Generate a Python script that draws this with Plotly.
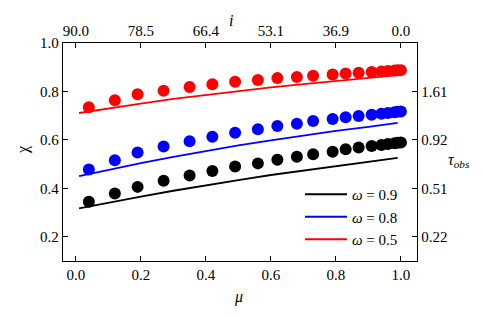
import plotly.graph_objects as go

# ---- data ----
mu_pts = [0.04, 0.12, 0.19, 0.27, 0.35, 0.42, 0.49, 0.56, 0.62, 0.68,
          0.73, 0.79, 0.83, 0.87, 0.91, 0.94, 0.96, 0.98, 0.99, 1.0]
chi_pts_05 = [0.735, 0.764, 0.788, 0.803, 0.818, 0.830, 0.840, 0.847, 0.855, 0.860,
              0.865, 0.870, 0.874, 0.877, 0.880, 0.882, 0.884, 0.886, 0.887, 0.888]
chi_pts_08 = [0.478, 0.516, 0.548, 0.573, 0.594, 0.613, 0.629, 0.644, 0.657, 0.667,
              0.678, 0.686, 0.693, 0.699, 0.704, 0.708, 0.711, 0.714, 0.716, 0.717]
chi_pts_09 = [0.345, 0.379, 0.406, 0.431, 0.453, 0.472, 0.490, 0.503, 0.518, 0.530,
              0.541, 0.551, 0.561, 0.569, 0.575, 0.579, 0.583, 0.586, 0.588, 0.589]

mu_line = [0.01, 0.1, 0.2, 0.3, 0.4, 0.5, 0.6, 0.7, 0.8, 0.9, 0.99]
chi_line_05 = [0.711, 0.730, 0.750, 0.769, 0.786, 0.802, 0.817, 0.830, 0.843, 0.856, 0.867]
chi_line_08 = [0.450, 0.477, 0.504, 0.530, 0.555, 0.577, 0.598, 0.618, 0.637, 0.654, 0.670]
chi_line_09 = [0.317, 0.341, 0.366, 0.390, 0.413, 0.434, 0.455, 0.474, 0.492, 0.510, 0.526]

x_ticks = [0.0, 0.2, 0.4, 0.6, 0.8, 1.0]
x_ticklabels = ["0.0", "0.2", "0.4", "0.6", "0.8", "1.0"]
i_ticklabels = ["90.0", "78.5", "66.4", "53.1", "36.9", "0.0"]
y_ticks = [0.2, 0.4, 0.6, 0.8, 1.0]
y_ticklabels = ["0.2", "0.4", "0.6", "0.8", "1.0"]
tau_ticks = [0.2, 0.4, 0.6, 0.8]
tau_ticklabels = ["0.22", "0.51", "0.92", "1.61"]

series = [
    ("<i>ω</i> = 0.9", "#000000", chi_line_09, chi_pts_09),
    ("<i>ω</i> = 0.8", "#0000ff", chi_line_08, chi_pts_08),
    ("<i>ω</i> = 0.5", "#ff0000", chi_line_05, chi_pts_05),
]

FONT = "Liberation Serif, DejaVu Serif, serif"
OFF = 8  # page body margin
W, H = 485 - OFF, 318 - OFF
L, R, T, B = 63 - OFF, 417 - OFF, 43 - OFF, 261 - OFF

fig = go.Figure()
for name, col, yl, yp in series:
    fig.add_trace(go.Scatter(x=mu_line, y=yl, mode="lines", name=name,
                             line=dict(color=col, width=1.8)))
for name, col, yl, yp in series:
    fig.add_trace(go.Scatter(x=mu_pts, y=yp, mode="markers", showlegend=False,
                             marker=dict(color=col, size=12, line=dict(width=0))))
# empty trace to activate the twin axes
fig.add_trace(go.Scatter(x=[None], y=[None], xaxis="x2", yaxis="y2",
                         showlegend=False, hoverinfo="skip"))

xr = [-0.0395, 1.0495]
yr = [0.1, 1.0]
common = dict(showline=True, linecolor="black", linewidth=1.3, ticks="inside",
              ticklen=5, tickwidth=1.3, tickcolor="black", showgrid=False,
              zeroline=False, automargin=False,
              tickfont=dict(family=FONT, size=15, color="black"))

def px(xp):
    return (xp - OFF - L) / (R - L)

def py(yp):
    return (B - (yp - OFF)) / (B - T)

fig.update_layout(
    width=W, height=H,
    margin=dict(l=L, r=W - R, t=T, b=H - B, autoexpand=False),
    paper_bgcolor="white", plot_bgcolor="white",
    font=dict(family=FONT, size=15, color="black"),
    xaxis=dict(range=xr, tickvals=x_ticks, ticktext=x_ticklabels, **common),
    xaxis2=dict(range=xr, tickvals=x_ticks, ticktext=i_ticklabels,
                overlaying="x", side="top", anchor="y", **common),
    yaxis=dict(range=yr, tickvals=y_ticks, ticktext=y_ticklabels, **common),
    yaxis2=dict(range=yr, tickvals=tau_ticks, ticktext=tau_ticklabels,
                overlaying="y", side="right", anchor="x", **common),
    legend=dict(x=px(300), y=py(178), itemwidth=42,
                xanchor="left", yanchor="top", bgcolor="rgba(0,0,0,0)",
                font=dict(family=FONT, size=15, color="black")),
    showlegend=True,
)

ann = [
    dict(text="χ", x=px(23), y=py(150), textangle=-90),
    dict(text="<i>μ</i>", x=px(238), y=py(297)),
    dict(text="<i>i</i>", x=px(231), y=py(20)),
    dict(text="<i>τ<sub>obs</sub></i>", x=px(459), y=py(160)),
]
for a in ann:
    fig.add_annotation(xref="paper", yref="paper", showarrow=False,
                       xanchor="center", yanchor="middle",
                       font=dict(family=FONT, size=16, color="black"), **a)

fig.write_html("out.html")
